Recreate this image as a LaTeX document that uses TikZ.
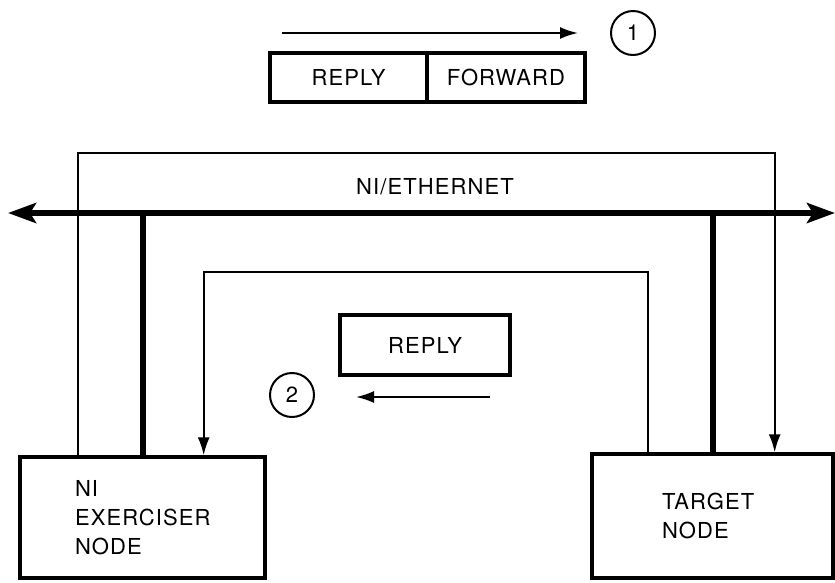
\documentclass[tikz,border=0pt]{standalone}
\usepackage{fontspec}
\setmainfont[LetterSpace=5]{TeX Gyre Heros}
\usepackage{tikz}
\usetikzlibrary{arrows.meta}
\usetikzlibrary{calc}
\usetikzlibrary{positioning}

\begin{document}
\begin{tikzpicture}[x=1pt,y=-1pt,
    font=\fontsize{22}{29}\selectfont,
    box/.style={draw,line width=3.4pt,inner sep=0pt},
    flow/.style={line width=2pt,-{Latex[length=18pt,width=12pt]}},
    stub/.style={line width=6pt},
    num/.style={draw,circle,line width=2pt,minimum size=44pt,inner sep=0pt}]
    \useasboundingbox (0,0) rectangle (835,582);

    % message on the way out
    \node[box,minimum width=157,minimum height=49] at (348.5,77.5) (fwdreply) {REPLY};
    \node[box,minimum width=158,minimum height=49] at (506,77.5) (forward) {FORWARD};
    \coordinate (outstart) at (282,33);
    \coordinate (outend) at (578,33);
    \draw[flow] (outstart) -- (outend);
    \node[num] at (633,33) (one) {1};

    % the cable
    \coordinate (ethleft) at (8,213);
    \coordinate (ethright) at (835,213);
    \draw[line width=5.5pt,{Stealth[length=28pt,width=20pt,inset=6pt]}-{Stealth[length=28pt,width=20pt,inset=6pt]}] (ethleft) -- (ethright);
    \node[above] at (435,198) (eth) {NI/ETHERNET};

    % the two stations
    \node[box,minimum width=245,minimum height=121,text width=135,align=left] at (142.5,517.5) (exer) {NI\\EXERCISER\\NODE};
    \node[box,minimum width=241,minimum height=124,text width=101,align=left] at (712.5,516) (target) {TARGET\\NODE};
    \draw[stub] (exer.north) -- (exer.north |- ethleft);
    \draw[stub] (target.north) -- (target.north |- ethleft);

    % forward path and reply path
    \draw[flow] ([xshift=60]exer.north west) -- ++(0,-302) -| ([xshift=-60]target.north east);
    \draw[flow] ([xshift=58]target.north west) -- ++(0,-180) -| ([xshift=-63]exer.north east);

    % message on the way back
    \node[box,minimum width=170,minimum height=60] at (425,345) (backreply) {REPLY};
    \coordinate (backstart) at (490,397);
    \coordinate (backend) at (356,397);
    \draw[flow] (backstart) -- (backend);
    \node[num] at (292,395) (two) {2};
\end{tikzpicture}
\end{document}
